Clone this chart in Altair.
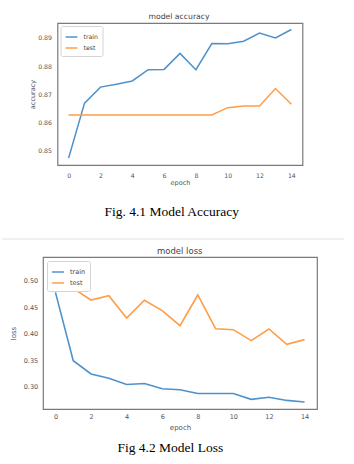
import altair as alt
import pandas as pd

# ---------------- data ----------------
epochs = [0, 1, 2, 3, 4, 5, 6, 7, 8, 9, 10, 11, 12, 13, 14]
acc_train = [0.8473, 0.8668, 0.8725, 0.8735, 0.8747, 0.8787, 0.8788, 0.8845,
             0.8787, 0.8880, 0.8879, 0.8888, 0.8917, 0.8900, 0.8930]
acc_test = [0.8626, 0.8626, 0.8626, 0.8626, 0.8626, 0.8626, 0.8626, 0.8626,
            0.8626, 0.8626, 0.8652, 0.8658, 0.8658, 0.8720, 0.8664]
loss_train = [0.478, 0.349, 0.324, 0.316, 0.304, 0.306, 0.296, 0.294,
              0.287, 0.287, 0.287, 0.276, 0.280, 0.274, 0.271]
loss_test = [0.527, 0.4855, 0.4635, 0.4717, 0.4296, 0.463, 0.4434, 0.415,
             0.473, 0.4094, 0.4075, 0.3868, 0.4088, 0.380, 0.3887]

series_names = ["train", "test"]
series_colors = ["#4f92cb", "#ff9d48"]
x_ticks = [0, 2, 4, 6, 8, 10, 12, 14]
acc_ticks = [0.85, 0.86, 0.87, 0.88, 0.89]
loss_ticks = [0.30, 0.35, 0.40, 0.45, 0.50]
panel_titles = ["model accuracy", "model loss"]
captions = ["Fig. 4.1 Model Accuracy", "Fig 4.2 Model Loss"]
x_domain = [-0.7, 14.7]
acc_domain = [0.8448, 0.8953]
loss_domain = [0.2578, 0.5447]


def to_long(train, test):
    return pd.DataFrame({
        "epoch": epochs + epochs,
        "value": train + test,
        "series": ["train"] * len(train) + ["test"] * len(test),
    })


def legend(offset, fs):
    return alt.Legend(title=None, orient="top-left", offset=offset,
                      symbolType="stroke", symbolSize=140, symbolStrokeWidth=1.5,
                      labelFontSize=fs, labelColor="#444", labelFont="DejaVu Sans",
                      padding=4, strokeColor="#d4d4d4", fillColor="white",
                      cornerRadius=2, rowPadding=0, labelOffset=5)


FONT = "DejaVu Sans"
SERIF = "Liberation Serif"


def text_layer(txt, font, size, color, x, y):
    return alt.Chart(pd.DataFrame({"t": [txt]})).mark_text(
        font=font, fontSize=size, color=color, align="center", baseline="middle"
    ).encode(x=alt.value(x), y=alt.value(y), text="t:N")


# ---------------- top panel: accuracy ----------------
acc_df = to_long(acc_train, acc_test)
acc_lines = alt.Chart(acc_df).mark_line(strokeWidth=1.5).encode(
    x=alt.X("epoch:Q", scale=alt.Scale(domain=x_domain, nice=False, zero=False),
            axis=alt.Axis(values=x_ticks, format="d", title="epoch",
                          labelPadding=7, titlePadding=1,
                          labelFontSize=6.2, titleFontSize=6.5)),
    y=alt.Y("value:Q", scale=alt.Scale(domain=acc_domain, nice=False, zero=False),
            axis=alt.Axis(values=acc_ticks, format=".2f", title="accuracy",
                          labelPadding=6, titlePadding=2.5,
                          labelFontSize=6.2, titleFontSize=6.5)),
    color=alt.Color("series:N", sort=series_names,
                    scale=alt.Scale(domain=series_names, range=series_colors),
                    legend=legend(3, 6.2)),
)
acc_title = text_layer(panel_titles[0], FONT, 7.7, "#444", 121.5, -6.3)
acc_caption = text_layer(captions[0], SERIF, 13.5, "black", 114.2, 188.8)
top_anchor = alt.Chart(pd.DataFrame({"a": [0]})).mark_rule(
    color="white", strokeWidth=0.5
).encode(x=alt.value(0), x2=alt.value(10), y=alt.value(-22))

top = alt.layer(acc_lines, acc_title, acc_caption, top_anchor).properties(
    width=245, height=142,
)

# ---------------- bottom panel: loss ----------------
loss_df = to_long(loss_train, loss_test)
loss_lines = alt.Chart(loss_df).mark_line(strokeWidth=1.6).encode(
    x=alt.X("epoch:Q", scale=alt.Scale(domain=x_domain, nice=False, zero=False),
            axis=alt.Axis(values=x_ticks, format="d", title="epoch",
                          labelPadding=4.5, titlePadding=3,
                          labelFontSize=6.5, titleFontSize=7)),
    y=alt.Y("value:Q", scale=alt.Scale(domain=loss_domain, nice=False, zero=False),
            axis=alt.Axis(values=loss_ticks, format=".2f", title="loss",
                          labelPadding=5.3, titlePadding=7,
                          labelFontSize=6.5, titleFontSize=7)),
    color=alt.Color("series:N", sort=series_names,
                    scale=alt.Scale(domain=series_names, range=series_colors),
                    legend=legend(4, 6.5)),
)
loss_title = text_layer(panel_titles[1], FONT, 8.5, "#444", 136.7, -6.3)
loss_caption = text_layer(captions[1], SERIF, 13.5, "black", 127.3, 191.2)
separator = alt.Chart(pd.DataFrame({"a": [0]})).mark_rule(
    color="#e2e2e2", strokeWidth=1
).encode(x=alt.value(-41), x2=alt.value(301), y=alt.value(-18))

bottom = alt.layer(loss_lines, loss_title, loss_caption, separator).properties(
    width=274, height=152,
)

chart = alt.vconcat(top, bottom, spacing=92, bounds="flush", center=True).resolve_scale(
    color="independent"
).resolve_legend(color="independent").properties(
    padding=0, background="white"
).configure_view(
    stroke="#7a7a7a", strokeWidth=1.2
).configure_axis(
    domain=False, ticks=False, grid=False,
    labelFont=FONT, titleFont=FONT,
    labelColor="#555", titleColor="#555", titleFontWeight="normal",
)

chart.save("out.html", embed_options={"renderer": "svg", "actions": False})
